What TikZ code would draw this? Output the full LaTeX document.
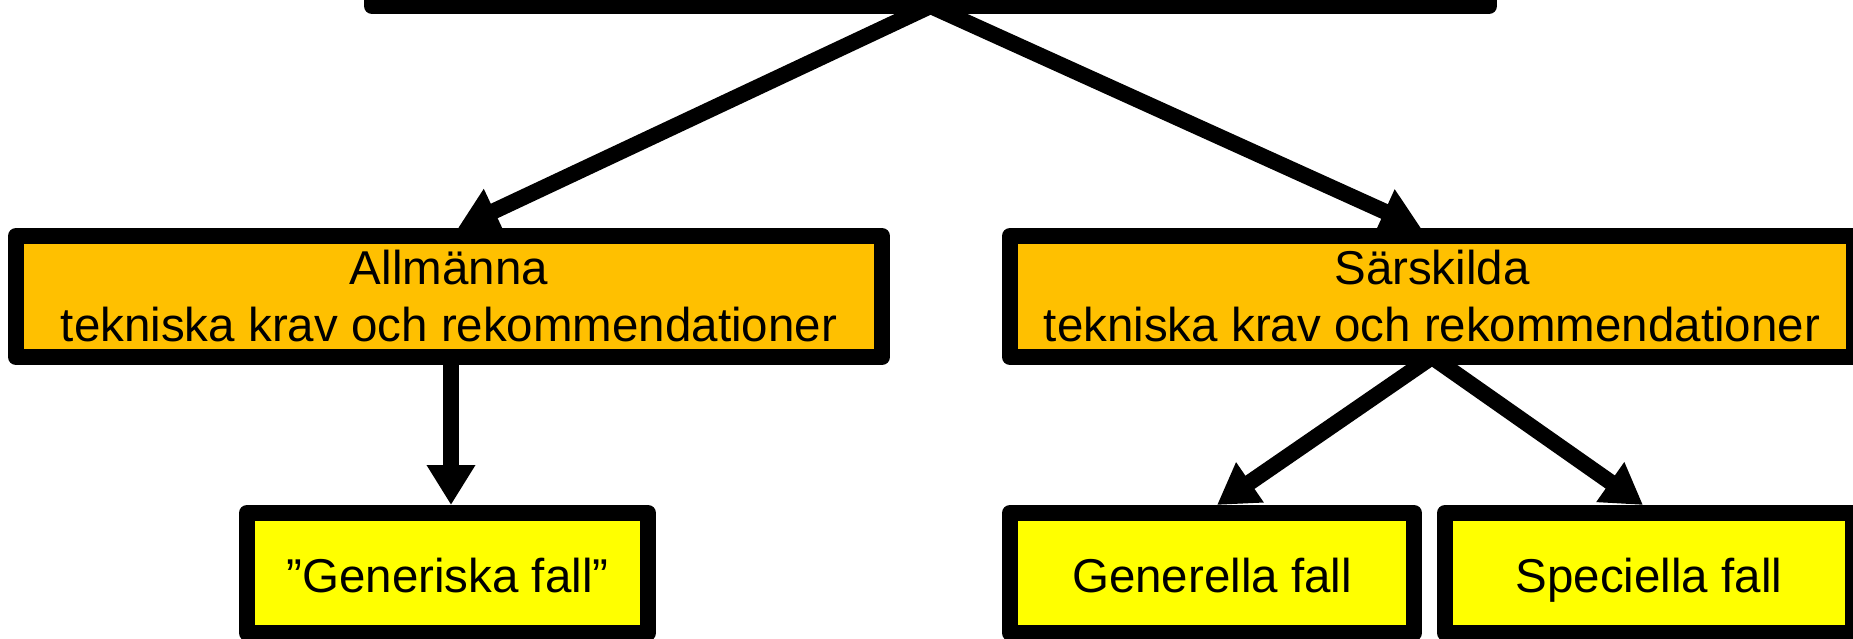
\documentclass[tikz,border=0pt]{standalone}
\usepackage{fontspec}
\setmainfont{Liberation Sans}
\usetikzlibrary{arrows.meta}
\definecolor{boxorange}{HTML}{FFC000}
\definecolor{boxyellow}{HTML}{FFFF00}
\begin{document}
\begin{tikzpicture}[x=1pt,y=-1pt,
  box/.style={draw=black, line width=16pt, line join=round, inner sep=0pt,
    font=\fontsize{47.5}{57}\selectfont},
  upper/.style={box, fill=boxorange, minimum height=121pt, align=center},
  lower/.style={box, fill=boxyellow, minimum height=120pt, text height=38pt, text depth=0pt},
  conn/.style={line width=16pt, -{Triangle[length=40pt,width=46pt]}}
]
\useasboundingbox (0,0) rectangle (1853,639);
\node[box, fill=white, minimum width=1117pt, minimum height=66pt] (top) at (930.5,-27) {};
\node[upper, minimum width=866pt] (gen) at (449,296.5) {Allmänna\\tekniska krav och rekommendationer};
\node[upper, minimum width=844pt] (spec) at (1432,296.5) {Särskilda\\tekniska krav och rekommendationer};
\node[lower, minimum width=401pt] (gcase) at (447.5,573) {”Generiska fall”};
\node[lower, minimum width=404pt] (gen2) at (1212,573) {Generella fall};
\node[lower, minimum width=408pt] (spc) at (1649,573) {Speciella fall};
\coordinate (apex) at ([yshift=8pt]top.south);
\coordinate (fork) at ([yshift=8pt]spec.south);
\draw[conn] (apex) -- ([xshift=9pt]gen.north);
\draw[conn] (apex) -- ([xshift=-11pt]spec.north);
\draw[conn] ([xshift=2pt]gen.south) -- ([xshift=2pt]gen.south |- gcase.north);
\draw[conn] (fork) -- ([xshift=5pt]gen2.north);
\draw[conn] (fork) -- ([xshift=-6pt]spc.north);
\end{tikzpicture}
\end{document}
